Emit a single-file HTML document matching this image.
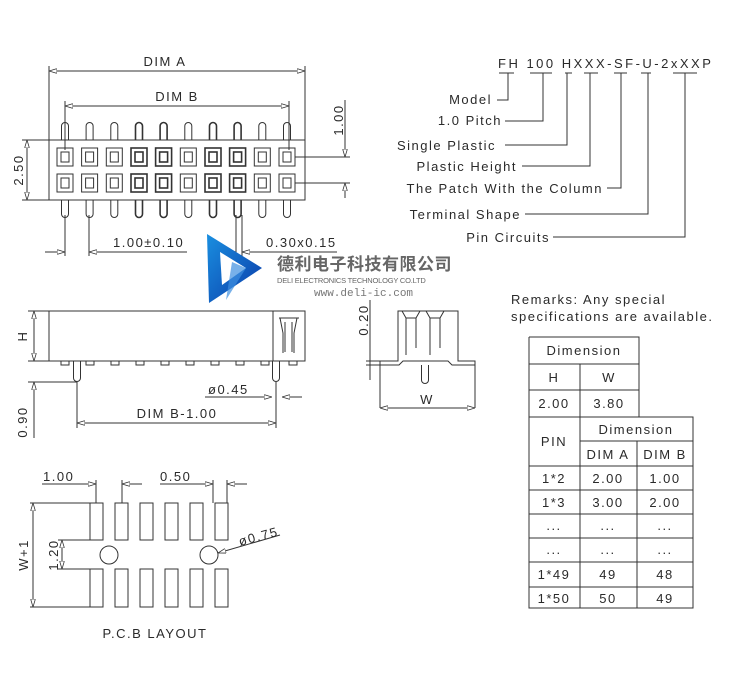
<!DOCTYPE html>
<html><head><meta charset="utf-8"><style>
html,body{margin:0;padding:0;background:#fff;}
svg{display:block;}
text{font-family:"Liberation Sans","Noto Sans CJK SC",sans-serif;fill:#2a2a2a;letter-spacing:1.5px;}
</style></head><body>
<svg width="740" height="673" viewBox="0 0 740 673" xmlns="http://www.w3.org/2000/svg">
<defs>
<marker id="a" viewBox="0 0 10 6" refX="10" refY="3" markerWidth="8" markerHeight="5" orient="auto-start-reverse" markerUnits="userSpaceOnUse"><path d="M0,0 L10,3 L0,6 Z" fill="#fff" stroke="#333" stroke-width="1"/></marker>
<linearGradient id="g" x1="0" y1="0" x2="1" y2="1"><stop offset="0" stop-color="#1a8fe0"/><stop offset="1" stop-color="#0a3aa8"/></linearGradient>
</defs>
<g stroke="#333" stroke-width="1" fill="none">
<rect x="49" y="140" width="256" height="60"/>
<g id="pins">
<path d="M61.5,140 V126 a3.5,3.5 0 0 1 7,0 V140 M61.5,200 V214 a3.5,3.5 0 0 0 7,0 V200"/>
<rect x="57" y="148" width="16" height="18"/><rect x="61" y="152" width="8" height="10"/>
<rect x="57" y="174" width="16" height="18"/><rect x="61" y="178" width="8" height="10"/>
</g>
<use href="#pins" x="24.6"/><use href="#pins" x="49.3"/><use href="#pins" x="74" stroke-width="1.6"/><use href="#pins" x="98.6" stroke-width="1.6"/><use href="#pins" x="123.3"/><use href="#pins" x="148" stroke-width="1.6"/><use href="#pins" x="172.6" stroke-width="1.6"/><use href="#pins" x="197.3"/><use href="#pins" x="222"/>
<path d="M49,140 V66 M305,140 V66"/>
<line x1="49" y1="71" x2="305" y2="71" marker-start="url(#a)" marker-end="url(#a)"/>
<path d="M65,150 V101 M289,150 V101"/>
<line x1="65" y1="106" x2="289" y2="106" marker-start="url(#a)" marker-end="url(#a)"/>
<path d="M295,157 H350 M295,183 H350 M345,100 V157 M345,183 V195"/>
<line x1="345" y1="140" x2="345" y2="157" marker-end="url(#a)"/>
<line x1="345" y1="198" x2="345" y2="183" marker-end="url(#a)"/>
<path d="M22,140 H49 M22,200 H49"/>
<line x1="27" y1="140" x2="27" y2="200" marker-start="url(#a)" marker-end="url(#a)"/>
<path d="M65,215 V256 M89,215 V256"/>
<line x1="45" y1="252" x2="65" y2="252" marker-end="url(#a)"/>
<line x1="187" y1="252" x2="89" y2="252" marker-end="url(#a)"/>
<path d="M236,215 V256 M242,215 V256"/>
<line x1="222" y1="252" x2="236" y2="252" marker-end="url(#a)"/>
<line x1="337" y1="252" x2="242" y2="252" marker-end="url(#a)"/>
<rect x="49" y="311" width="256" height="50"/>
<path d="M273,311 V361 M279,318 h20 M280,318 l3,15 v20 M297,318 l-3,15 v20 M285,322 v30 M292,322 v30"/>
<g id="pd"><rect x="61" y="361" width="8" height="4"/></g>
<use href="#pd" x="25"/><use href="#pd" x="50"/><use href="#pd" x="75"/><use href="#pd" x="100"/><use href="#pd" x="125"/><use href="#pd" x="150"/><use href="#pd" x="175"/><use href="#pd" x="200"/><use href="#pd" x="228"/>
<path d="M73.5,361 V378 a3.5,3.5 0 0 0 7,0 V361 M272.5,361 V378 a3.5,3.5 0 0 0 7,0 V361"/>
<path d="M28,311 H49 M28,361 H49"/>
<line x1="34" y1="311" x2="34" y2="361" marker-start="url(#a)" marker-end="url(#a)"/>
<path d="M28,382 H77 M34,392 V438"/>
<line x1="34" y1="395" x2="34" y2="382" marker-end="url(#a)"/>
<path d="M77,382 V428 M276,382 V428"/>
<line x1="77" y1="423" x2="276" y2="423" marker-start="url(#a)" marker-end="url(#a)"/>
<line x1="205" y1="397" x2="272" y2="397" marker-end="url(#a)"/>
<line x1="302" y1="397" x2="282" y2="397" marker-end="url(#a)"/>
<path d="M380,408 V361 H398 V311 H458 V361 H475 V408 M380,365 H399 l4,-4 h45 l4,4 h23"/>
<path d="M406,318 V355 M416,318 V348 M430,318 V355 M440,318 V348 M406,318 h10 M430,318 h10 M402,311 l4,7 M420,311 l-4,7 M426,311 l4,7 M444,311 l-4,7"/>
<path d="M421.5,365 V380 a3.5,3.5 0 0 0 7,0 V365"/>
<line x1="380" y1="408" x2="475" y2="408" marker-start="url(#a)" marker-end="url(#a)"/>
<path d="M370,300 V380 M366,361 H380 M366,365 H380"/>
<g id="pp"><rect x="90" y="503" width="13" height="37"/><rect x="90" y="569" width="13" height="38"/></g>
<use href="#pp" x="25"/><use href="#pp" x="50"/><use href="#pp" x="75"/><use href="#pp" x="100"/><use href="#pp" x="125"/>
<circle cx="109" cy="555" r="9"/><circle cx="209" cy="555" r="9"/>
<path d="M30,503 H90 M30,607 H90 M58,540 H90 M58,569 H90"/>
<line x1="33" y1="503" x2="33" y2="607" marker-start="url(#a)" marker-end="url(#a)"/>
<line x1="62" y1="540" x2="62" y2="569" marker-start="url(#a)" marker-end="url(#a)"/>
<path d="M96,480 V503 M122,480 V503 M213,480 V503 M227,480 V503"/>
<line x1="42" y1="484" x2="96" y2="484" marker-end="url(#a)"/>
<line x1="142" y1="484" x2="122" y2="484" marker-end="url(#a)"/>
<line x1="160" y1="484" x2="213" y2="484" marker-end="url(#a)"/>
<line x1="247" y1="484" x2="227" y2="484" marker-end="url(#a)"/>
<line x1="280" y1="535" x2="218" y2="553" marker-end="url(#a)"/>
<path d="M499,73 H514 M530,73 H552 M565,73 H572 M584,73 H598 M614,73 H627 M641,73 H651 M673,73 H697"/>
<path d="M497,100 H508 V73 M505,121 H543 V73 M505,145 H567 V73 M522,166 H590 V73 M607,188 H621 V73 M525,214 H648 V73 M553,237 H685 V73"/>
<path d="M529,337 H639 V417 M529,364 H639 M529,390 H639 M529,337 V608 H693 V417 H529 M580,364 V608 M580,441 H693 M637,441 V608 M529,466 H693 M529,490 H693 M529,514 H693 M529,538 H693 M529,562 H693 M529,587 H693"/>
</g>
<g font-size="13">
<text x="165" y="66" text-anchor="middle">DIM A</text>
<text x="177" y="101" text-anchor="middle">DIM B</text>
<text transform="translate(343,120) rotate(-90)" text-anchor="middle">1.00</text>
<text transform="translate(23,170) rotate(-90)" text-anchor="middle">2.50</text>
<text x="113" y="247">1.00±0.10</text>
<text x="266" y="247">0.30x0.15</text>
<text transform="translate(27,336) rotate(-90)" text-anchor="middle">H</text>
<text transform="translate(27,422) rotate(-90)" text-anchor="middle">0.90</text>
<text x="177" y="418" text-anchor="middle">DIM B-1.00</text>
<text x="208" y="394">ø0.45</text>
<text x="427" y="404" text-anchor="middle">W</text>
<text transform="translate(368,320) rotate(-90)" text-anchor="middle">0.20</text>
<text transform="translate(28,555) rotate(-90)" text-anchor="middle">W+1</text>
<text transform="translate(58,555) rotate(-90)" text-anchor="middle">1.20</text>
<text x="43" y="481">1.00</text>
<text x="160" y="481">0.50</text>
<text transform="translate(240,546) rotate(-15)">ø0.75</text>
<text x="155" y="638" text-anchor="middle">P.C.B LAYOUT</text>
<text x="498" y="68" style="letter-spacing:2.5px">FH 100 HXXX-SF-U-2xXXP</text>
<text x="492" y="104" text-anchor="end">Model</text>
<text x="502" y="125" text-anchor="end">1.0 Pitch</text>
<text x="496" y="150" text-anchor="end">Single Plastic</text>
<text x="517" y="171" text-anchor="end">Plastic Height</text>
<text x="603" y="193" text-anchor="end">The Patch With the Column</text>
<text x="521" y="219" text-anchor="end">Terminal Shape</text>
<text x="550" y="242" text-anchor="end">Pin Circuits</text>
<text x="511" y="304">Remarks: Any special</text>
<text x="511" y="321">specifications are available.</text>
<g text-anchor="middle" style="letter-spacing:1px">
<text x="584" y="355">Dimension</text>
<text x="554" y="382">H</text><text x="609" y="382">W</text>
<text x="554" y="408">2.00</text><text x="609" y="408">3.80</text>
<text x="554" y="446">PIN</text><text x="636" y="434">Dimension</text>
<text x="608" y="459">DIM A</text><text x="665" y="459">DIM B</text>
<text x="554" y="483">1*2</text><text x="608" y="483">2.00</text><text x="665" y="483">1.00</text>
<text x="554" y="507">1*3</text><text x="608" y="507">3.00</text><text x="665" y="507">2.00</text>
<text x="554" y="530">...</text><text x="608" y="530">...</text><text x="665" y="530">...</text>
<text x="554" y="554">...</text><text x="608" y="554">...</text><text x="665" y="554">...</text>
<text x="554" y="579">1*49</text><text x="608" y="579">49</text><text x="665" y="579">48</text>
<text x="554" y="603">1*50</text><text x="608" y="603">50</text><text x="665" y="603">49</text>
</g>
</g>
<path d="M207,234 L262,268 L209,303 Z" fill="url(#g)"/>
<path d="M220,252 L246,268 L222,285 Z" fill="#fff"/>
<path d="M232,262 L246,268 L226,300 Z" fill="#3d8fe0" opacity="0.7"/>
<text x="277" y="270" font-size="17" font-weight="bold" style="fill:#666;letter-spacing:0.5px">德利电子科技有限公司</text>
<text x="277" y="283" font-size="7.5" style="fill:#666;letter-spacing:-0.2px">DELI ELECTRONICS TECHNOLOGY CO.LTD</text>
<text x="314" y="296" font-size="11" style="fill:#777;letter-spacing:0;font-family:'Liberation Mono',monospace">www.deli-ic.com</text>
</svg>
</body></html>
